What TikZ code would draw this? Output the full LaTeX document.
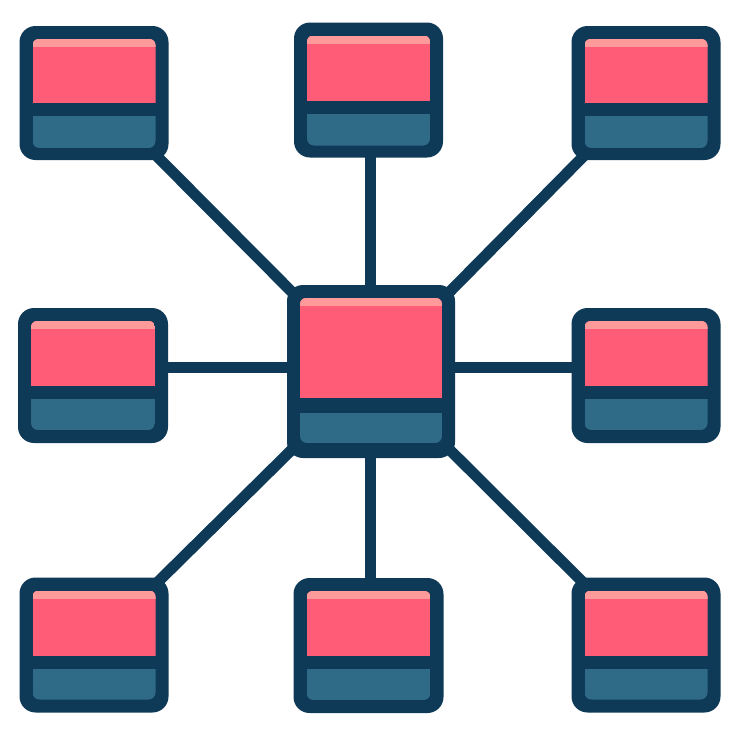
\documentclass[tikz,border=0pt]{standalone}
\usetikzlibrary{calc,backgrounds}
\definecolor{navy}{HTML}{0E3A58}
\definecolor{pinkc}{HTML}{FF5C78}
\definecolor{stripc}{HTML}{FF9A9A}
\definecolor{tealc}{HTML}{2F6A86}
\tikzset{
  outerbox/.style={fill=navy, rounded corners=16pt, inner sep=0pt, outer sep=0pt},
  link/.style={draw=navy, line width=11pt}
}
% name, cx, cy, w, h, pinkH, bandH, tealH
\newcommand\ubox[8]{%
  \node[outerbox, minimum width=#4pt, minimum height=#5pt] (#1) at (#2,#3) {};
  \begin{scope}
    \clip[rounded corners=6pt] ($(#1.north west)+(13,13)$) rectangle ($(#1.north east)+(-13,13+#6+10)$);
    \fill[pinkc] ($(#1.north west)+(13,13)$) rectangle ($(#1.north east)+(-13,13+#6)$);
    \fill[stripc] ($(#1.north west)+(13,13)$) rectangle ($(#1.north east)+(-13,21)$);
  \end{scope}
  \begin{scope}
    \clip[rounded corners=7pt] ($(#1.north west)+(13,13+#6+#7-10)$) rectangle ($(#1.north east)+(-13,13+#6+#7+#8)$);
    \fill[tealc] ($(#1.north west)+(13,13+#6+#7)$) rectangle ($(#1.north east)+(-13,13+#6+#7+#8)$);
  \end{scope}
}
\begin{document}
\begin{tikzpicture}[x=1pt,y=-1pt]
\useasboundingbox (0,0) rectangle (740,740);
\ubox{c}{371}{371.5}{168}{173}{100}{15}{30}
\ubox{tl}{94}{93}{149}{134}{64}{13}{32}
\ubox{tm}{368.5}{90}{149}{135}{65}{13}{32}
\ubox{tr}{646}{93}{149}{134}{64}{13}{32}
\ubox{ml}{93}{375.5}{150}{135}{65}{13}{31}
\ubox{mr}{646}{375.5}{149}{135}{65}{13}{31}
\ubox{bl}{94}{645}{149}{135}{65}{13}{31}
\ubox{bm}{368.5}{645.5}{150}{135}{65}{13}{31}
\ubox{br}{646}{645}{149}{135}{65}{13}{31}
\coordinate (hub) at ($(c.center)+(-1,-4)$);
\begin{scope}[on background layer]
  \foreach \n in {tl,tr,bl,br}{\draw[link] (c.center) -- (\n.center);}
  \draw[link] (hub) -- (ml.center |- hub);
  \draw[link] (hub) -- (mr.center |- hub);
  \draw[link] (hub) -- (hub |- tm.center);
  \draw[link] (hub) -- (hub |- bm.center);
\end{scope}
\end{tikzpicture}
\end{document}
